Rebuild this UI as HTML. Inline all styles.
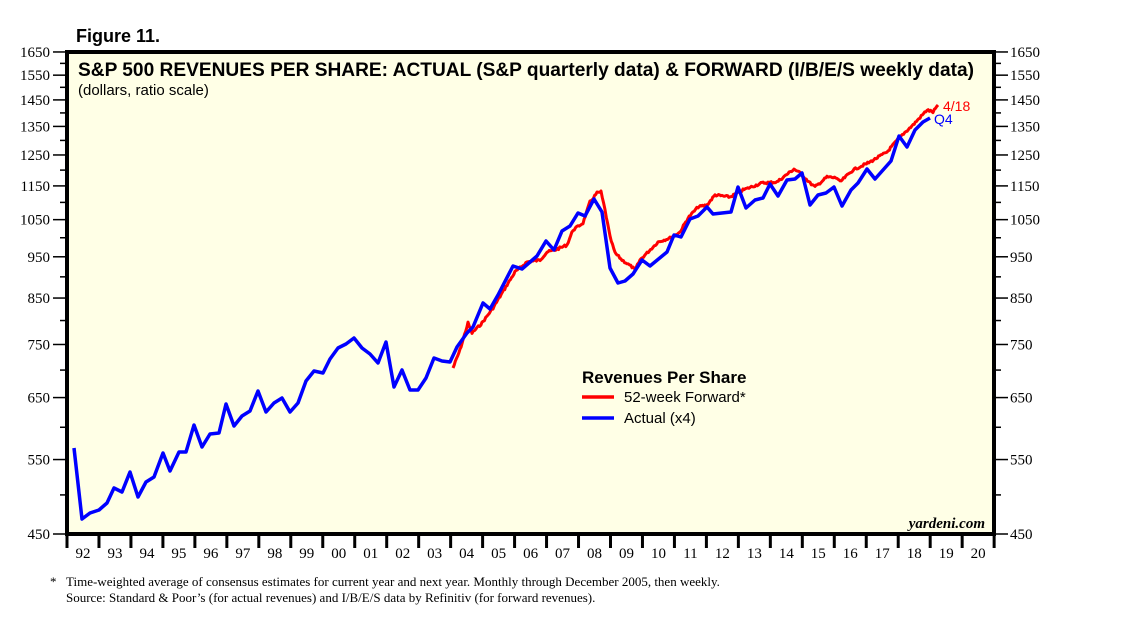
<!DOCTYPE html>
<html><head><meta charset="utf-8"><style>
body{margin:0;background:#fff}
.a{font-family:"Liberation Sans",sans-serif}
.s{font-family:"Liberation Serif",serif}
</style></head><body>
<svg width="1138" height="624" viewBox="0 0 1138 624" xmlns="http://www.w3.org/2000/svg">
<rect x="67" y="52" width="927" height="482" fill="#ffffe6" stroke="#000" stroke-width="4"/>
<text class="a" x="76" y="42" font-size="18" font-weight="bold">Figure 11.</text>
<text class="a" x="78" y="76" font-size="19" font-weight="bold" textLength="896" lengthAdjust="spacingAndGlyphs">S&amp;P 500 REVENUES PER SHARE: ACTUAL (S&amp;P quarterly data) &amp; FORWARD (I/B/E/S weekly data)</text>
<text class="a" x="78" y="95" font-size="15">(dollars, ratio scale)</text>
<g id="ticks" stroke="#000" stroke-width="1.5"></g>
<g id="labs"></g>
<polyline id="red" fill="none" stroke="#f00" stroke-width="3" stroke-linejoin="round" points=""/>
<polyline fill="none" stroke="#00f" stroke-width="3.5" stroke-linejoin="round" points="74,448 82,519 90,513 99,510 107,503 114,488 122,492 130,472 138,497 146,482 154,477 163,453 170,471 179,452 186,452 194,425 202,447 210,434 219,433 226,404 234,426 242,416 250,411 258,391 266,412 274,403 282,398 290,412 298,403 306,381 314,371 323,373 330,359 338,348 346,344 354,338 362,348 370,354 378,363 386,342 394,387 402,370 410,390 418,390 426,378 434,358 442,361 450,362 457,347 467,333 473,327 483,303 490,309 498,295 513,266 522,269 537,256 546,241 554,250 562,231 570,226 578,213 585,216 594,199 602,212 610,268 618,283 625,281 633,274 642,260 650,266 667,252 674,235 681,237 690,219 698,216 707,207 713,214 731,212 738,187 746,208 755,200 763,198 770,184 778,196 787,180 795,179 802,173 810,205 818,195 826,193 834,187 842,206 851,190 858,183 867,169 875,179 883,170 891,161 899,136 907,147 915,130 923,122 930,118"/>
<text class="a" x="943" y="111" font-size="14" fill="#f00">4/18</text>
<text class="a" x="934" y="124" font-size="14" fill="#00f">Q4</text>
<text class="a" x="582" y="383" font-size="17" font-weight="bold">Revenues Per Share</text>
<line x1="582" y1="397" x2="614" y2="397" stroke="#f00" stroke-width="3.5"/>
<line x1="582" y1="418" x2="614" y2="418" stroke="#00f" stroke-width="3.5"/>
<text class="a" x="624" y="402" font-size="15">52-week Forward*</text>
<text class="a" x="624" y="423" font-size="15">Actual (x4)</text>
<text x="985" y="528" class="s" font-size="15" font-style="italic" font-weight="bold" text-anchor="end">yardeni.com</text>
<text x="50" y="586" class="s" font-size="13">*</text>
<text x="66" y="586" class="s" font-size="13">Time-weighted average of consensus estimates for current year and next year. Monthly through December 2005, then weekly.</text>
<text x="66" y="602" class="s" font-size="13">Source: Standard &amp; Poor’s (for actual revenues) and I/B/E/S data by Refinitiv (for forward revenues).</text>
</svg>
<script>
const t=document.getElementById('ticks'),l=document.getElementById('labs'),NS='http://www.w3.org/2000/svg';
function el(p,n,a,tx){const e=document.createElementNS(NS,n);for(const k in a)e.setAttribute(k,a[k]);if(tx!==undefined)e.textContent=tx;p.appendChild(e);}
const Y=v=>534-371*Math.log(v/450);
for(let v=450;v<=1650;v+=50){const y=Y(v),maj=(v-450)%100==0;
el(t,'line',{x1:maj?53:60,y1:y,x2:67,y2:y});el(t,'line',{x1:994,y1:y,x2:maj?1008:1001,y2:y});
if(maj){el(l,'text',{x:50,y:y+5,'text-anchor':'end','class':'s','font-size':15},v);el(l,'text',{x:1010,y:y+5,'class':'s','font-size':15},v);}}
for(let i=0;i<=29;i++){const x=67+i*31.97;el(t,'line',{x1:x,y1:534,x2:x,y2:548,'stroke-width':3});
if(i<29)el(l,'text',{x:x+16,y:558,'text-anchor':'middle','class':'s','font-size':15},String((92+i)%100).padStart(2,'0'));}
const rp=[[453,368],[460,350],[468,323],[472,333],[482,323],[493,308],[507,285],[515,272],[527,262],[540,260],[547,252],[555,250],[567,245],[573,230],[583,223],[590,202],[597,193],[601,192],[605,210],[610,237],[615,253],[622,260],[632,267],[635,270],[640,260],[653,247],[658,242],[670,238],[680,232],[688,218],[698,207],[707,205],[715,195],[730,197],[743,190],[762,183],[777,182],[794,169],[800,173],[810,183],[815,187],[827,177],[837,178],[840,182],[853,170],[870,162],[887,152],[900,137],[913,125],[927,110],[933,112],[938,105]];
let pts=[],s=7;const rnd=()=>{s=(s*9301+49297)%233280;return s/233280-0.5;};
for(let i=0;i<rp.length-1;i++){const[a,b]=rp[i],[c,d]=rp[i+1];const n=Math.max(1,Math.round((c-a)/1.2));
for(let k=0;k<n;k++){const f=k/n;pts.push((a+(c-a)*f).toFixed(1)+','+(b+(d-b)*f+rnd()*2.2).toFixed(1));}}
pts.push('938,105');document.getElementById('red').setAttribute('points',pts.join(' '));
</script>
</body></html>
